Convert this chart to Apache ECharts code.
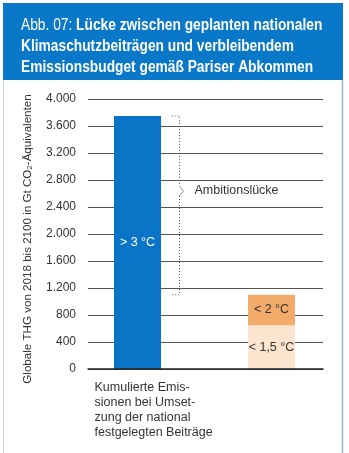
<!DOCTYPE html>
<html>
<head>
<meta charset="utf-8">
<script src="https://cdn.jsdelivr.net/npm/echarts@6/dist/echarts.min.js"></script>
<style>
  html, body { margin: 0; padding: 0; background: #fff; }
  #chart { width: 349px; height: 453px; }
</style>
</head>
<body>
<div id="chart"></div>
<script>
// Categories on the x axis (line breaks as printed)
const categories = [
  'Kumulierte Emis-\nsionen bei Umset-\nzung der national\nfestgelegten Beiträge',
  'Emissionsbudget\nfür ≤ 2 °C'
];
// Gt CO2-eq, 2018–2100
const ndcEmissions = [3750, '-'];
const budget15 = ['-', 650];     // budget for < 1.5 °C
const budget2Extra = ['-', 450]; // additional budget up to < 2 °C
const barLabels = { ndc: '> 3 °C', b15: '< 1,5 °C', b2: '< 2 °C' };
const gapLabel = 'Ambitionslücke';
const gapRange = [3750, 1100]; // top and bottom of the ambition gap bracket
const yTicks = { min: 0, max: 4000, interval: 400 };
const titleLines = [
  'Lücke zwischen geplanten nationalen',
  'Klimaschutzbeiträgen und verbleibendem',
  'Emissionsbudget gemäß Pariser Abkommen'
];
const titlePrefix = 'Abb. 07: ';

const FONT = '"Liberation Sans", "DejaVu Sans", sans-serif';
const TXT = '#333333';

const fmtThousands = v => String(v).replace(/\B(?=(\d{3})+(?!\d))/g, '.');

const chart = echarts.init(document.getElementById('chart'), null, { renderer: 'canvas' });

const option = {
  backgroundColor: '#ffffff',
  animation: false,
  graphic: [
    { type: 'rect', z: -10, shape: { x: 3, y: 3, width: 340, height: 77 }, style: { fill: '#0a78c8' } },
    { type: 'line', z: -10, shape: { x1: 3.5, y1: 80, x2: 3.5, y2: 453 }, style: { stroke: '#c9cfdb', lineWidth: 1 } },
    { type: 'line', z: -10, shape: { x1: 342.5, y1: 80, x2: 342.5, y2: 453 }, style: { stroke: '#9fb3cc', lineWidth: 1.5 } },
    {
      // header text, set in a condensed width
      type: 'text', z: 10, x: 21, y: 15, scaleX: 0.82,
      style: {
        x: 0, y: 0,
        text: '{r|' + titlePrefix + '}{b|' + titleLines[0] + '}\n' +
              titleLines.slice(1).map(l => '{b|' + l + '}').join('\n'),
        rich: {
          r: { fill: '#fff', fontFamily: FONT, fontSize: 16.8, fontWeight: 'normal', lineHeight: 21 },
          b: { fill: '#fff', fontFamily: FONT, fontSize: 16.8, fontWeight: 'bold', lineHeight: 21 }
        }
      }
    }
  ],
  grid: [
    // bars
    { left: 70.5, right: 10.5, top: 99, bottom: 84 },
    // axis, gridlines and baseline
    { left: 88, right: 26, top: 99, bottom: 84 }
  ],
  xAxis: [
    {
      type: 'category', gridIndex: 0, data: categories,
      axisLine: { show: false }, axisTick: { show: false },
      axisLabel: {
        margin: 11,
        formatter: (v, i) => v.split('\n').map(l => (i === 0 ? '{a|' : '{c|') + l + '}').join('\n'),
        rich: {
          a: { width: 86, align: 'left', fontFamily: FONT, fontSize: 12.5, color: TXT, lineHeight: 15 },
          c: { width: 96, align: 'left', fontFamily: FONT, fontSize: 12.5, color: TXT, lineHeight: 15 }
        }
      }
    },
    {
      type: 'value', gridIndex: 1, min: 0, max: 1, z: 5,
      axisLine: { show: true, onZero: false, lineStyle: { color: '#222', width: 1.5 } },
      axisTick: { show: false }, axisLabel: { show: false }, splitLine: { show: false }
    }
  ],
  yAxis: [
    {
      type: 'value', gridIndex: 0, min: yTicks.min, max: yTicks.max, interval: yTicks.interval,
      show: false, splitLine: { show: false }
    },
    {
      type: 'value', gridIndex: 1, min: yTicks.min, max: yTicks.max, interval: yTicks.interval,
      name: 'Globale THG von 2018 bis 2100 in Gt CO₂-Äquivalenten',
      nameLocation: 'middle', nameRotate: 90, nameGap: 54,
      nameTextStyle: { fontFamily: FONT, fontSize: 11.6, color: TXT, padding: [0, 0, 0, -10] },
      axisLine: { show: false }, axisTick: { show: false },
      axisLabel: { margin: 12, fontFamily: FONT, fontSize: 12, color: TXT, formatter: fmtThousands },
      splitLine: { show: true, lineStyle: { color: '#555', width: 1 } }
    }
  ],
  series: [
    {
      type: 'bar', xAxisIndex: 0, yAxisIndex: 0, stack: 'total', barWidth: 47,
      data: ndcEmissions,
      itemStyle: { color: '#0a74c6' },
      label: { show: true, position: 'inside', formatter: barLabels.ndc, color: '#fff', fontFamily: FONT, fontSize: 12.5 }
    },
    {
      type: 'bar', xAxisIndex: 0, yAxisIndex: 0, stack: 'total', barWidth: 47,
      data: budget15,
      itemStyle: { color: '#fce4cf' },
      label: { show: true, position: 'inside', formatter: barLabels.b15, color: TXT, fontFamily: FONT, fontSize: 12.5 }
    },
    {
      type: 'bar', xAxisIndex: 0, yAxisIndex: 0, stack: 'total', barWidth: 47,
      data: budget2Extra,
      itemStyle: { color: '#f3ab6c' },
      label: { show: true, position: 'inside', formatter: barLabels.b2, color: TXT, fontFamily: FONT, fontSize: 12.5 }
    },
    {
      // dotted bracket marking the ambition gap
      type: 'custom', xAxisIndex: 0, yAxisIndex: 0, z: 4, silent: true,
      data: [[0, gapRange[0], gapRange[1]]],
      renderItem: (params, api) => {
        const top = api.coord([api.value(0), api.value(1)]);
        const bot = api.coord([api.value(0), api.value(2)]);
        const x = Math.round(top[0] + 41.5) + 0.5;
        const y1 = top[1], y2 = bot[1];
        const ym = y1 + (y2 - y1) * 0.42;
        const dash = { stroke: '#555', lineWidth: 1, lineDash: [1, 2], fill: null };
        return {
          type: 'group',
          children: [
            { type: 'polyline', shape: { points: [[x - 8, y1], [x, y1], [x, ym - 5]] }, style: dash },
            { type: 'polyline', shape: { points: [[x, ym - 5], [x + 4, ym], [x, ym + 5]] }, style: { stroke: '#999', lineWidth: 1, fill: null } },
            { type: 'polyline', shape: { points: [[x, ym + 5], [x, y2], [x - 8, y2]] }, style: dash },
            { type: 'text', style: { text: gapLabel, x: x + 15, y: ym, textVerticalAlign: 'middle', fill: TXT, font: '12.5px ' + FONT } }
          ]
        };
      }
    }
  ]
};

chart.setOption(option);
</script>
</body>
</html>
